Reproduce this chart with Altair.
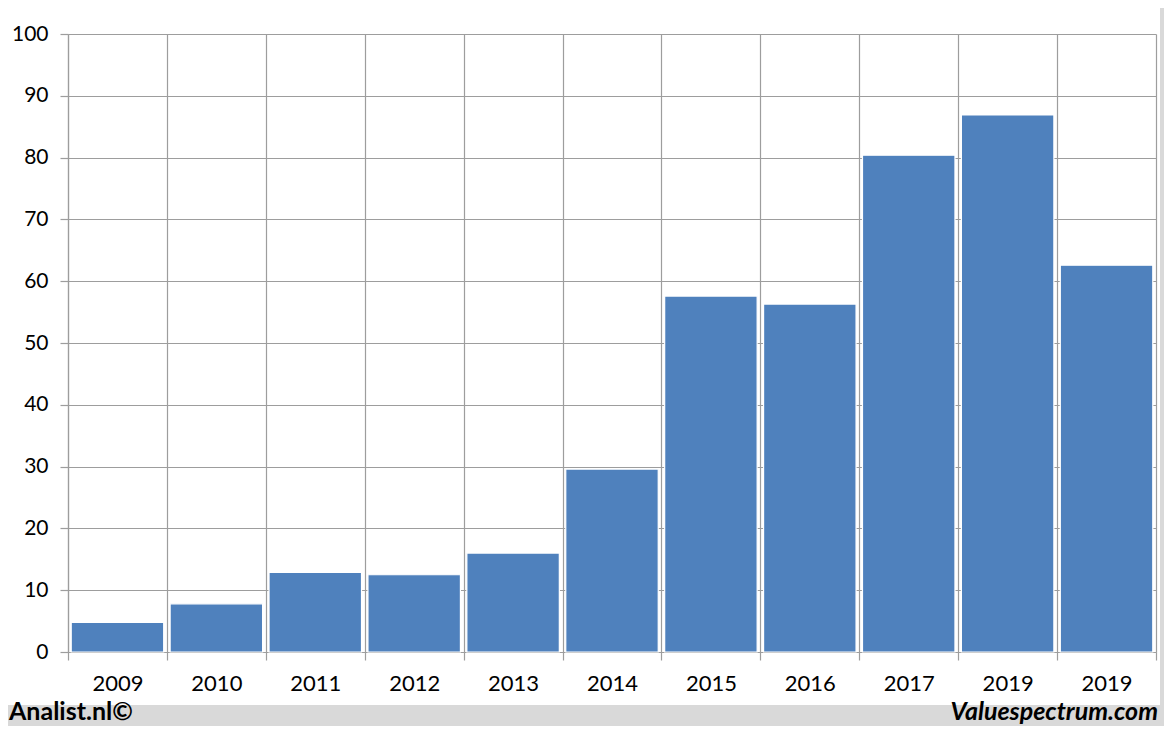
import altair as alt
import pandas as pd

years = ["2009", "2010", "2011", "2012", "2013", "2014", "2015", "2016", "2017", "2019", "2019"]
values = [4.8, 7.8, 12.9, 12.5, 16.0, 29.6, 57.6, 56.3, 80.4, 86.9, 62.6]
footer_left = ["Analist.nl©"]
footer_right = ["Valuespectrum.com"]

W, H = 1088, 618
FONT = "Lato"
GRID = "#9d9d9d"
FRAME = "#d9d9d9"

df = pd.DataFrame({"idx": list(range(len(years))), "year": years, "value": values})
label_expr = "[" + ",".join('"%s"' % y for y in years) + "][datum.value]"

one = pd.DataFrame({"a": [0]})
footer_strip = alt.Chart(one).mark_rect(color=FRAME).encode(
    x=alt.value(-70), x2=alt.value(W + 30), y=alt.value(H + 53), y2=alt.value(H + 100)
)
right_strip = alt.Chart(one).mark_rect(color=FRAME).encode(
    x=alt.value(W + 4), x2=alt.value(W + 30), y=alt.value(-40), y2=alt.value(H + 100)
)

bars = alt.Chart(df).mark_bar(
    color="#4f81bd", stroke="white", strokeWidth=1.2, width={"band": 0.935}
).encode(
    x=alt.X("idx:O", scale=alt.Scale(paddingInner=0, paddingOuter=0),
            axis=alt.Axis(title=None, labelExpr=label_expr, labelAngle=0, tickBand="extent",
                          grid=True, gridColor=GRID, gridWidth=1.2, tickColor=GRID, tickWidth=1.2,
                          tickSize=8, domainColor=GRID, domainWidth=1.2, labelFont=FONT,
                          labelFontSize=22, labelColor="#000000", labelPadding=13)),
    y=alt.Y("value:Q", scale=alt.Scale(domain=[0, 100], nice=False),
            axis=alt.Axis(title=None, values=list(range(0, 101, 10)), grid=True, gridColor=GRID,
                          gridWidth=1.2, tickColor=GRID, tickWidth=1.2, tickSize=8,
                          domainColor=GRID, domainWidth=1.2, labelFont=FONT, labelFontSize=21,
                          labelColor="#000000", labelPadding=12)),
)

left_txt = alt.Chart(pd.DataFrame({"t": footer_left})).mark_text(
    font=FONT, fontSize=25, fontWeight="bold", align="left", baseline="alphabetic", color="#000000"
).encode(x=alt.value(-59), y=alt.value(H + 68), text="t:N")

right_txt = alt.Chart(pd.DataFrame({"t": footer_right})).mark_text(
    font=FONT, fontSize=25, fontWeight="bold", fontStyle="italic", align="right",
    baseline="alphabetic", color="#000000"
).encode(x=alt.value(W + 2), y=alt.value(H + 68), text="t:N")

chart = alt.layer(footer_strip, right_strip, bars, left_txt, right_txt).properties(
    width=W, height=H, background="white",
    autosize=alt.AutoSizeParams(type="none"),
    padding={"left": 60, "top": 26, "right": 8, "bottom": 74},
).configure_view(stroke=None)

chart.save("out.html", embed_options={"renderer": "svg", "actions": False})
